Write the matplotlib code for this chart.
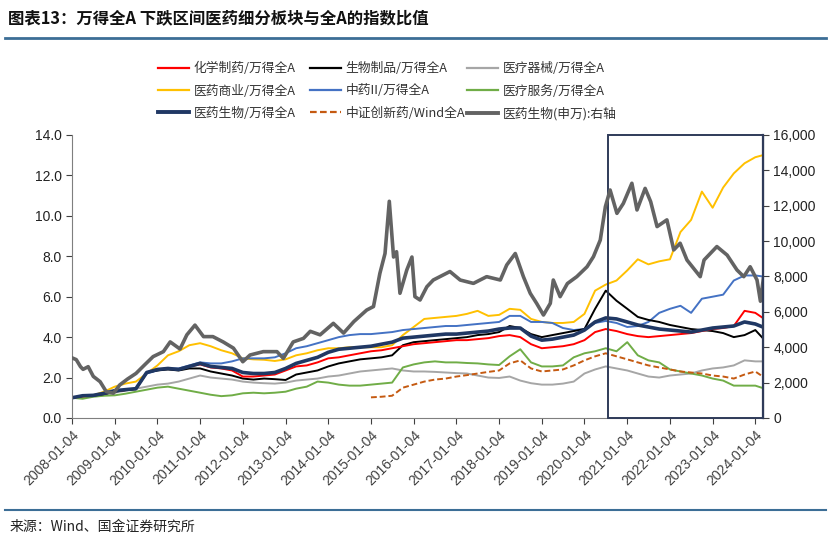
import numpy as np
import pandas as pd
import matplotlib
matplotlib.use("Agg")
import matplotlib.pyplot as plt
import matplotlib.dates as mdates
from matplotlib.patches import Rectangle
from matplotlib.ticker import FuncFormatter

plt.rcParams['font.family'] = ['Noto Sans CJK SC', 'DejaVu Sans']

# quarterly dates 2008-01-04 ... 2024-01-04, plus last print
q_dates = list(pd.date_range("2008-01-01", "2024-01-01", freq="QS") + pd.Timedelta(days=3))
q_dates.append(pd.Timestamp("2024-03-08"))

# ratio series (left axis)
chem = [1.00, 1.08, 1.12, 1.20, 1.32, 1.38, 1.45, 2.25, 2.40, 2.45, 2.40, 2.55, 2.65, 2.50, 2.45, 2.35,
        2.05, 2.05, 2.10, 2.15, 2.35, 2.55, 2.60, 2.75, 2.95, 3.00, 3.10, 3.20, 3.30, 3.35, 3.45, 3.55,
        3.65, 3.70, 3.75, 3.80, 3.85, 3.85, 3.90, 3.95, 4.05, 4.10, 4.00, 3.65, 3.45, 3.50, 3.55, 3.65,
        3.85, 4.25, 4.40, 4.30, 4.15, 4.05, 4.00, 4.05, 4.10, 4.15, 4.20, 4.30, 4.40, 4.45, 4.55, 5.30,
        5.20, 4.95]
bio = [1.00, 1.08, 1.10, 1.18, 1.30, 1.38, 1.42, 2.25, 2.35, 2.40, 2.35, 2.45, 2.45, 2.30, 2.20, 2.10,
       1.95, 1.90, 1.95, 1.92, 1.88, 2.15, 2.25, 2.35, 2.55, 2.70, 2.80, 2.90, 2.95, 3.00, 3.10, 3.60,
       3.75, 3.80, 3.85, 3.90, 3.95, 4.00, 4.10, 4.15, 4.25, 4.55, 4.45, 4.15, 4.00, 4.10, 4.20, 4.30,
       4.40, 5.40, 6.30, 5.80, 5.40, 5.00, 4.85, 4.75, 4.60, 4.50, 4.40, 4.35, 4.30, 4.20, 4.00, 4.10,
       4.35, 3.95]
device = [1.00, 1.05, 1.10, 1.15, 1.25, 1.35, 1.45, 1.55, 1.65, 1.70, 1.80, 1.95, 2.10, 2.00, 1.95, 1.90,
          1.80, 1.75, 1.72, 1.70, 1.75, 1.85, 1.90, 1.95, 2.05, 2.10, 2.20, 2.30, 2.35, 2.40, 2.45, 2.35,
          2.30, 2.30, 2.28, 2.25, 2.22, 2.20, 2.10, 2.00, 1.98, 2.05, 1.85, 1.72, 1.65, 1.65, 1.70, 1.80,
          2.20, 2.40, 2.55, 2.45, 2.35, 2.20, 2.05, 2.00, 2.10, 2.15, 2.20, 2.35, 2.45, 2.50, 2.60, 2.85,
          2.80, 2.80]
commerce = [1.00, 1.05, 1.12, 1.30, 1.55, 1.70, 1.80, 2.20, 2.60, 3.10, 3.30, 3.60, 3.70, 3.55, 3.35, 3.20,
            2.95, 2.90, 2.88, 2.82, 2.90, 3.10, 3.20, 3.35, 3.45, 3.45, 3.50, 3.50, 3.50, 3.50, 3.60, 4.10,
            4.50, 4.90, 4.95, 5.00, 5.05, 5.15, 5.30, 5.05, 5.10, 5.40, 5.35, 4.90, 4.75, 4.70, 4.70, 4.75,
            5.15, 6.30, 6.60, 6.80, 7.30, 7.85, 7.60, 7.75, 7.85, 9.20, 9.80, 11.2, 10.4, 11.4, 12.1, 12.6,
            12.9, 13.0]
tcm = [1.00, 1.08, 1.12, 1.20, 1.30, 1.38, 1.45, 2.20, 2.35, 2.45, 2.45, 2.60, 2.75, 2.70, 2.70, 2.80,
       2.95, 2.95, 2.95, 3.00, 3.20, 3.45, 3.55, 3.70, 3.85, 4.00, 4.10, 4.15, 4.15, 4.20, 4.25, 4.35,
       4.40, 4.45, 4.50, 4.55, 4.55, 4.60, 4.65, 4.70, 4.75, 5.05, 5.05, 4.75, 4.75, 4.70, 4.45, 4.35,
       4.40, 4.70, 4.80, 4.70, 4.50, 4.55, 4.75, 5.20, 5.40, 5.55, 5.20, 5.90, 6.00, 6.10, 6.80, 7.05,
       7.05, 7.00]
service = [1.00, 0.95, 1.05, 1.10, 1.12, 1.20, 1.30, 1.40, 1.50, 1.55, 1.45, 1.35, 1.25, 1.15, 1.08, 1.12,
           1.22, 1.25, 1.22, 1.25, 1.30, 1.45, 1.55, 1.80, 1.75, 1.65, 1.60, 1.60, 1.65, 1.70, 1.75, 2.50,
           2.65, 2.75, 2.80, 2.75, 2.75, 2.72, 2.70, 2.65, 2.62, 3.05, 3.40, 2.75, 2.55, 2.55, 2.60, 3.00,
           3.20, 3.30, 3.45, 3.30, 3.75, 3.10, 2.85, 2.75, 2.40, 2.30, 2.20, 2.10, 1.95, 1.85, 1.60, 1.60,
           1.60, 1.48]
pharma = [1.00, 1.10, 1.12, 1.22, 1.35, 1.40, 1.45, 2.25, 2.40, 2.45, 2.40, 2.55, 2.70, 2.55, 2.50, 2.45,
          2.25, 2.20, 2.20, 2.25, 2.45, 2.70, 2.85, 3.00, 3.25, 3.40, 3.45, 3.50, 3.55, 3.65, 3.75, 3.95,
          4.00, 4.05, 4.10, 4.15, 4.15, 4.20, 4.25, 4.30, 4.40, 4.45, 4.45, 4.05, 3.85, 3.90, 4.00, 4.10,
          4.35, 4.75, 4.95, 4.90, 4.75, 4.60, 4.50, 4.40, 4.35, 4.30, 4.25, 4.35, 4.45, 4.50, 4.55, 4.75,
          4.65, 4.50]
# 中证创新药 starts 2015-01-04 (index 28 of the quarter grid)
innov = [np.nan] * 28 + [1.02, 1.05, 1.10, 1.50, 1.65, 1.80, 1.90, 1.95, 2.05, 2.12, 2.20, 2.28,
                         2.35, 2.70, 2.85, 2.45, 2.30, 2.35, 2.40, 2.60, 2.85, 3.05, 3.20, 3.05,
                         2.90, 2.75, 2.60, 2.50, 2.40, 2.30, 2.25, 2.20, 2.10, 2.05, 1.95, 2.15,
                         2.30, 2.05]

# 医药生物(申万) index, right axis
sw_years = [2008.00, 2008.10, 2008.20, 2008.26, 2008.38, 2008.50, 2008.66, 2008.80, 2008.97, 2009.12,
            2009.30, 2009.50, 2009.70, 2009.90, 2010.14, 2010.30, 2010.53, 2010.69, 2010.88, 2011.08,
            2011.30, 2011.54, 2011.78, 2012.00, 2012.17, 2012.48, 2012.80, 2012.95, 2013.18, 2013.42,
            2013.58, 2013.81, 2014.12, 2014.36, 2014.60, 2014.90, 2015.06, 2015.21, 2015.33, 2015.43,
            2015.53, 2015.60, 2015.68, 2015.84, 2015.96, 2016.03, 2016.15, 2016.31, 2016.46, 2016.85,
            2017.09, 2017.40, 2017.71, 2018.03, 2018.18, 2018.38, 2018.57, 2018.73, 2018.88, 2019.04,
            2019.20, 2019.27, 2019.43, 2019.60, 2019.82, 2020.06, 2020.21, 2020.37, 2020.49, 2020.60,
            2020.76, 2020.91, 2021.11, 2021.23, 2021.42, 2021.55, 2021.70, 2021.93, 2022.09, 2022.24,
            2022.40, 2022.71, 2022.80, 2023.10, 2023.34, 2023.57, 2023.73, 2023.88, 2024.04, 2024.12,
            2024.19]
sw_index = [3400, 3300, 2900, 2750, 2900, 2350, 2050, 1500, 1400, 1870,
            2200, 2520, 3000, 3470, 3750, 4300, 3900, 4700, 5250, 4600,
            4600, 4300, 3950, 3180, 3560, 3750, 3750, 3370, 4300, 4500,
            4900, 4700, 5350, 4800, 5450, 6100, 6300, 8180, 9300, 12250,
            9100, 9400, 7050, 8370, 9100, 6860, 6670, 7420, 7800, 8280,
            7800, 7610, 7990, 7800, 8650, 9300, 7990, 7050, 6480, 5820,
            6480, 7800, 6860, 7600, 7990, 8550, 9120, 10060, 11950, 12890,
            11570, 12130, 13270, 11760, 12980, 12230, 10820, 11200, 9500, 9880,
            8930, 7990, 8930, 9690, 9210, 8370, 7990, 8550, 7800, 6600,
            7900]

box_start = "2020-07-20"


def to_date(y):
    return pd.Timestamp("2008-01-04") + pd.Timedelta(days=(y - 2008.0) * 365.25)


sw_dates = [to_date(y) for y in sw_years]

fig = plt.figure(figsize=(8.31, 5.41), dpi=100)
ax = fig.add_axes([0.0866, 0.2274, 0.8316, 0.5231])
ax2 = ax.twinx()

ax.plot(q_dates, device, color="#A6A6A6", lw=1.4)
ax.plot(q_dates, service, color="#70AD47", lw=1.4)
ax.plot(q_dates, innov, color="#C55A11", lw=1.4, ls=(0, (3, 1.5)))
ax.plot(q_dates, commerce, color="#FFC000", lw=1.4)
ax.plot(q_dates, tcm, color="#4472C4", lw=1.4)
ax.plot(q_dates, bio, color="#000000", lw=1.4)
ax.plot(q_dates, chem, color="#FF0000", lw=1.4)
ax.plot(q_dates, pharma, color="#203864", lw=2.6)
ax2.plot(sw_dates, sw_index, color="#636363", lw=2.6)

x0 = pd.Timestamp("2008-01-04")
x1 = pd.Timestamp("2024-03-10")
ax.set_xlim(x0, x1)
ax.set_ylim(0, 14)
ax2.set_ylim(0, 16000)
ax.set_yticks(np.arange(0, 14.1, 2))
ax2.set_yticks(np.arange(0, 16001, 2000))
ax.yaxis.set_major_formatter(FuncFormatter(lambda v, p: f"{v:.1f}"))
ax2.yaxis.set_major_formatter(FuncFormatter(lambda v, p: f"{v:,.0f}"))

years = [pd.Timestamp(f"{y}-01-04") for y in range(2008, 2025)]
ax.set_xticks(years)
ax.set_xticklabels([d.strftime("%Y-%m-%d") for d in years], rotation=45, ha="right",
                   va="top", rotation_mode="anchor", fontsize=9, family="Liberation Sans")

for a in (ax, ax2):
    a.spines["top"].set_visible(False)
    a.tick_params(direction="out", length=4, width=0.8, colors="#404040", labelsize=10)
    for lab in a.get_yticklabels():
        lab.set_family("Liberation Sans")
ax.tick_params(axis="x", length=4, pad=3)
ax.spines["left"].set_color("#7F7F7F")
ax.spines["bottom"].set_color("#7F7F7F")
ax2.spines["left"].set_visible(False)
ax2.spines["bottom"].set_visible(False)
ax2.spines["right"].set_color("#2F3B59")
ax2.spines["right"].set_linewidth(1.6)
ax.tick_params(axis="y", labelcolor="#222222")
ax2.tick_params(axis="y", labelcolor="#222222")

# highlighted window
bx = mdates.date2num(pd.Timestamp(box_start))
rect = Rectangle((bx, 0), mdates.date2num(x1) - bx, 16000, fill=False,
                 edgecolor="#2F3B59", lw=1.4, clip_on=False)
ax2.add_patch(rect)

# legend: three columns, each its own block
columns = [
    [("化学制药/万得全A", dict(color="#FF0000", lw=1.6)),
     ("医药商业/万得全A", dict(color="#FFC000", lw=1.6)),
     ("医药生物/万得全A", dict(color="#203864", lw=2.8))],
    [("生物制品/万得全A", dict(color="#000000", lw=1.6)),
     ("中药II/万得全A", dict(color="#4472C4", lw=1.6)),
     ("中证创新药/Wind全A", dict(color="#C55A11", lw=1.6, ls=(0, (3, 1.5))))],
    [("医疗器械/万得全A", dict(color="#A6A6A6", lw=1.6)),
     ("医疗服务/万得全A", dict(color="#70AD47", lw=1.6)),
     ("医药生物(申万):右轴", dict(color="#636363", lw=2.8))],
]
col_x = [0.190, 0.373, 0.562]
for cx, entries in zip(col_x, columns):
    handles = [plt.Line2D([], [], **style) for _, style in entries]
    texts = [t for t, _ in entries]
    leg = fig.legend(handles, texts, loc="upper left", bbox_to_anchor=(cx, 0.885),
                     frameon=False, fontsize=9.2, handlelength=2.4, handletextpad=0.4,
                     labelspacing=0.72, borderaxespad=0, borderpad=0, labelcolor="#333333")

fig.text(0.010, 0.967, "图表13：万得全A 下跌区间医药细分板块与全A的指数比值", fontsize=11.8,
         fontweight="bold", style="italic", va="center", ha="left", color="#111111")
fig.add_artist(plt.Line2D([0.006, 0.994], [0.930, 0.930], color="#3C6E96", lw=2.0))
fig.add_artist(plt.Line2D([0.006, 0.994], [0.057, 0.057], color="#3C6E96", lw=1.5))
fig.text(0.012, 0.026, "来源：Wind、国金证券研究所", fontsize=10, va="center", ha="left",
         color="#222222")

fig.savefig("out.png", dpi=100)
